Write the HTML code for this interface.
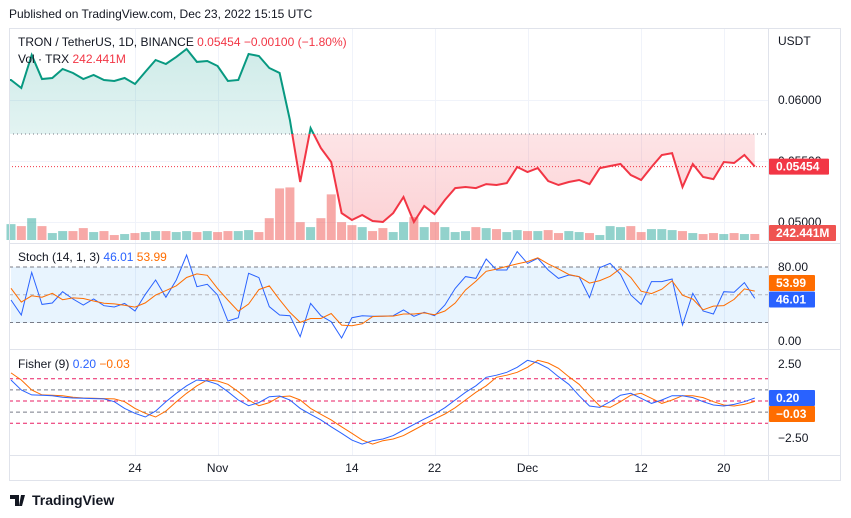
<!DOCTYPE html>
<html><head><meta charset="utf-8">
<style>
body{margin:0;background:#fff;font-family:"Liberation Sans",sans-serif;}
#wrap{position:relative;width:851px;height:518px;overflow:hidden;}
text{font-family:"Liberation Sans",sans-serif;}
</style></head>
<body>
<div id="wrap">
<svg id="svg" width="851" height="518" xmlns="http://www.w3.org/2000/svg">
<defs>
<linearGradient id="gUp" x1="0" y1="0" x2="0" y2="1"><stop offset="0" stop-color="#26a69a" stop-opacity="0.22"/><stop offset="1" stop-color="#26a69a" stop-opacity="0.04"/></linearGradient>
<linearGradient id="gDn" x1="0" y1="0" x2="0" y2="1"><stop offset="0" stop-color="#f23645" stop-opacity="0.05"/><stop offset="1" stop-color="#f23645" stop-opacity="0.22"/></linearGradient>
<clipPath id="clipAbove"><rect id="ca" x="0" y="28" width="768" height="100"/></clipPath>
<clipPath id="clipBelow"><rect id="cb" x="0" y="100" width="768" height="140"/></clipPath>
</defs>
<text x="9" y="18" font-size="12" fill="#131722">Published on TradingView.com, Dec 23, 2022 15:15 UTC</text>
<g id="grid"></g>
<rect x="11" y="267" width="757" height="56" fill="#2196f3" fill-opacity="0.1"/>
<g id="price"></g>
<g id="stoch"></g>
<g id="fisher"></g>
<g id="frame">
<rect x="9.5" y="28.5" width="831" height="452" fill="none" stroke="#e0e3eb"/>
<line x1="768.5" y1="28" x2="768.5" y2="481" stroke="#e0e3eb"/>
<line x1="9" y1="243.5" x2="841" y2="243.5" stroke="#e0e3eb"/>
<line x1="9" y1="349.5" x2="841" y2="349.5" stroke="#e0e3eb"/>
<line x1="9" y1="455.5" x2="841" y2="455.5" stroke="#e0e3eb"/>
</g>
<g id="labels" font-size="12" fill="#131722">
<text x="18" y="46" fill="#131722">TRON / TetherUS, 1D, BINANCE <tspan fill="#f23645">0.05454  −0.00100 (−1.80%)</tspan></text>
<text x="18" y="63">Vol · TRX <tspan fill="#f23645">242.441M</tspan></text>
<text x="18" y="261">Stoch (14, 1, 3) <tspan fill="#2962ff">46.01</tspan> <tspan fill="#ff6d00">53.99</tspan></text>
<text x="18" y="368">Fisher (9) <tspan fill="#2962ff">0.20</tspan> <tspan fill="#ff6d00">−0.03</tspan></text>
<text x="778" y="45">USDT</text>
</g>
<g id="axes" font-size="12" fill="#131722"></g>
<g>
<path d="M10 495h9v11h-4v-7h-5z M21 495h4l-3 11h-3z" fill="#131722"/>
<text x="32" y="505" font-size="14" font-weight="bold" fill="#131722">TradingView</text>
</g>
</svg>
</div>
<script>
const prices=[0.06164,0.06098,0.06369,0.06172,0.06180,0.06254,0.06221,0.06172,0.06205,0.06164,0.06156,0.06180,0.06131,0.06230,0.06328,0.06295,0.06353,0.06418,0.06312,0.06320,0.06279,0.06156,0.06164,0.06377,0.06361,0.06262,0.06221,0.05836,0.05328,0.05770,0.05606,0.05492,0.05073,0.05016,0.05057,0.05008,0.05000,0.05073,0.05205,0.05000,0.05131,0.05065,0.05180,0.05278,0.05287,0.05278,0.05311,0.05303,0.05319,0.05451,0.05410,0.05442,0.05336,0.05303,0.05328,0.05344,0.05311,0.05442,0.05459,0.05475,0.05385,0.05344,0.05451,0.05549,0.05565,0.05287,0.05475,0.05369,0.05352,0.05492,0.05484,0.05549,0.05454];
const volumes=[640,560,880,560,280,360,360,480,320,360,200,240,280,320,360,360,320,360,320,360,320,360,360,400,320,880,2080,2120,720,520,880,1840,720,600,520,360,480,320,720,920,520,720,520,320,360,520,480,440,320,400,360,360,400,280,360,320,280,200,560,520,560,320,440,440,400,360,280,240,280,240,280,240,242];
const stochK=[44.3,28.1,74.2,39.6,41.1,53.3,45.4,38.9,45.4,38.2,36.8,40.7,32.4,50.4,65.9,47.2,65.9,93.0,58.7,61.3,49.7,21.6,25.2,73.2,68.5,37.1,28.1,27.4,4.7,40.7,27.4,20.9,3.2,25.2,27.4,26.7,26.7,27.4,33.5,26.7,31.0,27.4,38.9,56.9,69.6,67.7,88.6,76.8,76.8,96.6,83.9,89.4,76.8,67.7,71.3,69.6,46.9,79.3,83.9,72.1,49.7,39.6,64.2,64.2,67.0,17.3,51.5,32.4,29.2,53.3,52.6,63.1,46.01];
const stochD=[57,42,48.9,47.3,51.6,44.7,46.6,45.9,43.2,40.8,40.1,38.6,36.6,41.2,49.6,54.5,59.7,68.7,72.5,71,56.6,44.2,32.2,40,55.6,59.6,44.6,30.9,20.1,24.3,24.3,29.7,17.2,16.4,18.6,26.4,26.9,26.9,29.2,29.2,30.4,28.4,32.4,41.1,55.1,64.7,75.3,77.7,80.7,83.4,85.8,90,83.4,78,71.9,69.5,62.6,65.3,70,78.4,68.6,53.8,51.2,56,65.1,49.5,45.3,33.7,37.7,38.3,45,56.3,53.99];
const fisher=[1.42,0.74,0.41,0.39,0.36,0.25,0.20,0.18,0.16,0.14,-0.05,-0.50,-0.83,-1.08,-0.68,-0.05,0.52,1.03,1.42,1.35,1.13,0.63,0.07,-0.32,-0.11,0.29,0.34,0.07,-0.50,-0.90,-1.28,-1.74,-2.18,-2.64,-2.91,-2.68,-2.57,-2.34,-1.96,-1.58,-1.22,-0.88,-0.45,0.07,0.59,1.03,1.60,1.74,1.94,2.28,2.75,2.57,2.21,1.64,1.13,0.36,-0.34,-0.43,-0.05,0.39,0.52,0.18,-0.16,0.07,0.36,0.36,0.23,-0.05,-0.27,-0.34,-0.23,-0.05,0.20];
const trigger=[1.90,1.42,0.74,0.41,0.39,0.36,0.25,0.20,0.18,0.16,0.14,-0.05,-0.50,-0.83,-1.08,-0.68,-0.05,0.52,1.03,1.42,1.35,1.13,0.63,0.07,-0.32,-0.11,0.29,0.34,0.07,-0.50,-0.90,-1.28,-1.74,-2.18,-2.64,-2.91,-2.68,-2.57,-2.34,-1.96,-1.58,-1.22,-0.88,-0.45,0.07,0.59,1.03,1.60,1.74,1.94,2.28,2.75,2.57,2.21,1.64,1.13,0.36,-0.34,-0.43,-0.05,0.39,0.52,0.18,-0.16,0.07,0.36,0.36,0.23,-0.05,-0.27,-0.34,-0.23,-0.03];
const priceTicks=["0.06000","0.05500","0.05000"];
const priceTickVals=[0.06,0.055,0.05];
const stochTicks=["80.00","0.00"];
const stochTickVals=[80,0];
const fisherTicks=["2.50","−2.50"];
const fisherTickVals=[2.5,-2.5];
const timeLabels=["24","Nov","14","22","Dec","12","20"];
const timeIdx=[12,20,33,41,50,61,69];
const basePrice=0.05721;

const NS="http://www.w3.org/2000/svg";
const X=i=>11+10.33*i;
const PY=p=>100+(0.06-p)*12200;
const VY=v=>240-v*0.0248;
const SY=v=>341-v*74/80;
const FY=v=>401-v*14.8;
function mk(tag,attrs,parent){const e=document.createElementNS(NS,tag);for(const k in attrs)e.setAttribute(k,attrs[k]);parent.appendChild(e);return e;}
const grid=document.getElementById('grid'),price=document.getElementById('price'),stoch=document.getElementById('stoch'),fish=document.getElementById('fisher'),axes=document.getElementById('axes');

timeIdx.forEach((ix,k)=>{
 const x=Math.round(X(ix))+0.5;
 const l=mk('line',{x1:x,y1:28,x2:x,y2:455,stroke:'#f0f3fa'},grid);
 
 
 const t=mk('text',{x:X(ix),y:472,'text-anchor':'middle'},axes);
 t.textContent=timeLabels[k];
 
 
});
priceTickVals.forEach((v,k)=>{
 const y=Math.round(PY(v))+0.5;
 const l=mk('line',{x1:9,y1:y,x2:768,y2:y,stroke:'#f0f3fa'},grid);
 
 
 const t=mk('text',{x:778,y:PY(v)+4},axes);
 t.textContent=priceTicks[k];
 
 
});
stochTickVals.forEach((v,k)=>{
 const t=mk('text',{x:778,y:SY(v)+4},axes);
 t.textContent=stochTicks[k];
 
 
});
fisherTickVals.forEach((v,k)=>{
 const t=mk('text',{x:778,y:FY(v)+4},axes);
 t.textContent=fisherTicks[k];
 
 
});

volumes.forEach((v,i)=>{
 const up=i===0?true:prices[i]>=prices[i-1];
 const b=mk('rect',{x:X(i)-4.5,y:VY(v),width:9,height:240-VY(v),fill:up?'#26a69a':'#ef5350','fill-opacity':0.5},price);
 
 
});
const by=PY(basePrice);
document.getElementById('ca').setAttribute('height',by-28);
document.getElementById('cb').setAttribute('y',by);
const lineD=prices.map((p,i)=>(i?'L':'M')+X(i).toFixed(1)+' '+PY(p).toFixed(1)).join(' ');
const areaD='M9 '+by+' L9 '+PY(prices[0]).toFixed(1)+' '+lineD.replace(/^M/,'L')+' L'+X(prices.length-1).toFixed(1)+' '+by+' Z';
const a1=mk('path',{d:areaD,fill:'url(#gUp)','clip-path':'url(#clipAbove)'},price);


const a2=mk('path',{d:areaD,fill:'url(#gDn)','clip-path':'url(#clipBelow)'},price);


const bl=mk('line',{x1:9,y1:by,x2:768,y2:by,stroke:'#787b86','stroke-dasharray':'1 3'},price);


const last=prices[prices.length-1];
const cl=mk('line',{x1:9,y1:PY(last),x2:768,y2:PY(last),stroke:'#f23645','stroke-dasharray':'1 2'},price);


const fullLine='M9 '+PY(prices[0]).toFixed(1)+' '+lineD.replace(/^M/,'L');
const l1=mk('path',{d:fullLine,fill:'none',stroke:'#089981','stroke-width':2,'clip-path':'url(#clipAbove)'},price);


const l2=mk('path',{d:fullLine,fill:'none',stroke:'#f23645','stroke-width':2,'clip-path':'url(#clipBelow)'},price);



[[80,'#787b86'],[50,'#b2b5be'],[20,'#787b86']].forEach(([v,c])=>{
 const l=mk('line',{x1:9,y1:SY(v),x2:768,y2:SY(v),stroke:c,'stroke-dasharray':'4 3'},stoch);
 
 
});
const pD=(arr,f)=>arr.map((v,i)=>(i?'L':'M')+X(i).toFixed(1)+' '+f(v).toFixed(1)).join(' ');
const sk=mk('path',{d:pD(stochK,SY),fill:'none',stroke:'#2962ff','stroke-width':1},stoch);


const sd=mk('path',{d:pD(stochD,SY),fill:'none',stroke:'#ff6d00','stroke-width':1},stoch);



[[1.5,'#e91e63'],[0.75,'#787b86'],[0,'#e91e63'],[-0.75,'#787b86'],[-1.5,'#e91e63']].forEach(([v,c])=>{
 const l=mk('line',{x1:9,y1:FY(v),x2:768,y2:FY(v),stroke:c,'stroke-dasharray':'4 3'},fish);
 
 
});
const ft=mk('path',{d:pD(trigger,FY),fill:'none',stroke:'#ff6d00','stroke-width':1},fish);


const fl=mk('path',{d:pD(fisher,FY),fill:'none',stroke:'#2962ff','stroke-width':1},fish);



function badge(y,txt,color,w,name){
 const g=mk('g',{},axes);
 
 
 mk('rect',{x:769,y:y-8,width:w,height:16,fill:color,rx:1},g);
 const t=mk('text',{x:776,y:y+4,fill:'#fff','font-size':12,'font-weight':'bold'},g);
 t.textContent=txt;
}
badge(PY(last),last.toFixed(5),'#f23645',60,'last-price-badge');
badge(VY(volumes[volumes.length-1])-1,'242.441M','#ef5350',67,'volume-badge');
badge(SY(stochD[stochD.length-1])-8,stochD[stochD.length-1].toFixed(2),'#ff6d00',46,'stoch-d-badge');
badge(SY(stochK[stochK.length-1])+1,stochK[stochK.length-1].toFixed(2),'#2962ff',46,'stoch-k-badge');
badge(FY(fisher[fisher.length-1]),fisher[fisher.length-1].toFixed(2),'#2962ff',46,'fisher-badge');
badge(FY(fisher[fisher.length-1])+16,trigger[trigger.length-1].toFixed(2).replace('-','−'),'#ff6d00',46,'trigger-badge');
</script>
</body></html>
